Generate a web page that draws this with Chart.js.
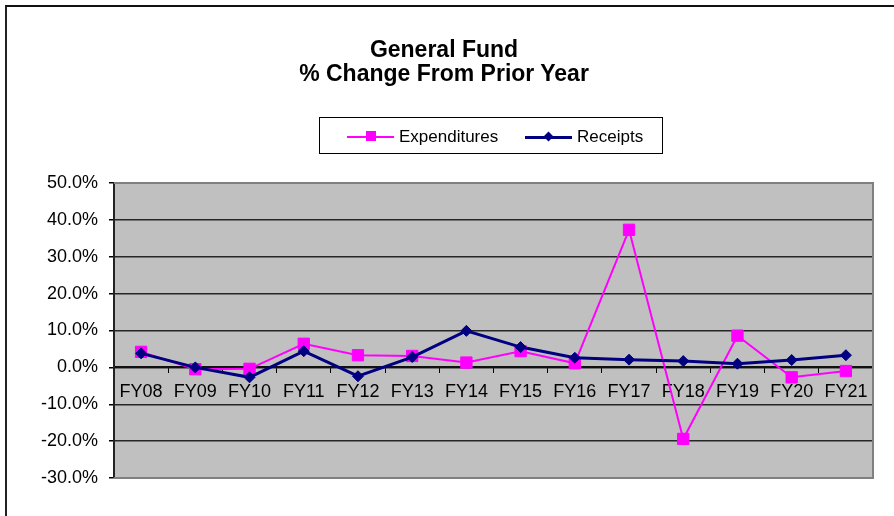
<!DOCTYPE html>
<html>
<head>
<meta charset="utf-8">
<script src="https://cdn.jsdelivr.net/npm/chart.js@4.4.1/dist/chart.umd.min.js"></script>
<style>
  html, body { margin: 0; padding: 0; background: #fff; }
  #wrap { position: relative; width: 894px; height: 516px; overflow: hidden; font-family: "Liberation Sans", Arial, sans-serif; }
  #frame { position: absolute; left: 5px; top: 5px; right: -10px; bottom: -10px; border-top: 2px solid #111; border-left: 2px solid #222; }
  #title { position: absolute; left: 0; width: 888px; top: 37px; text-align: center; font-weight: bold; font-size: 23px; line-height: 24px; color: #000; }
  #legend { position: absolute; left: 319px; top: 117px; width: 342px; height: 35px; border: 1px solid #000; background: #fff; }
  .item { position: absolute; top: 0; height: 35px; }
  .seg { position: absolute; top: 18px; width: 47px; }
  .mark { position: absolute; }
  .lbl { position: absolute; top: 10px; font-size: 17px; line-height: 17px; color: #000; white-space: nowrap; }
  canvas { position: absolute; left: 0; top: 0; }
</style>
</head>
<body>
<div id="wrap">
  <canvas id="chart" width="894" height="516"></canvas>
  <div id="frame"></div>
  <div id="title">General Fund<br>% Change From Prior Year</div>
  <div id="legend"></div>
</div>
<script>
const categories = ['FY08', 'FY09', 'FY10', 'FY11', 'FY12', 'FY13', 'FY14', 'FY15', 'FY16', 'FY17', 'FY18', 'FY19', 'FY20', 'FY21'];
const expenditures = [4.2, -0.5, -0.4, 6.4, 3.3, 3.1, 1.3, 4.4, 1.1, 37.3, -19.4, 8.6, -2.7, -1.0];
const receipts = [3.8, 0.0, -2.7, 4.4, -2.4, 2.8, 9.9, 5.5, 2.6, 2.1, 1.7, 1.0, 2.0, 3.3];
const seriesNames = ['Expenditures', 'Receipts'];
const seriesColors = ['#FF00FF', '#000080'];

// legend box, drawn by hand like the spreadsheet one
const legend = document.getElementById('legend');
const legendX = [27, 205];
seriesNames.forEach((name, i) => {
  const item = document.createElement('div');
  item.className = 'item';
  item.style.left = legendX[i] + 'px';
  const seg = document.createElement('div');
  seg.className = 'seg';
  seg.style.height = i === 0 ? '2px' : '3px';
  seg.style.background = seriesColors[i];
  const mark = document.createElement('div');
  mark.className = 'mark';
  mark.style.background = seriesColors[i];
  if (i === 0) {
    mark.style.width = '10px'; mark.style.height = '10px';
    mark.style.left = '19px'; mark.style.top = '13px';
  } else {
    mark.style.width = '7px'; mark.style.height = '7px';
    mark.style.left = '20px'; mark.style.top = '15px';
    mark.style.transform = 'rotate(45deg)';
  }
  const lbl = document.createElement('div');
  lbl.className = 'lbl';
  lbl.style.left = '52px';
  lbl.textContent = name;
  item.appendChild(seg); item.appendChild(mark); item.appendChild(lbl);
  legend.appendChild(item);
});

// gray plot background and gray frame on top/right/bottom
const plotArea = {
  id: 'plotArea',
  beforeDraw(chart) {
    const { ctx, chartArea: a } = chart;
    ctx.save();
    ctx.fillStyle = '#C0C0C0';
    ctx.fillRect(a.left, a.top, a.right - a.left, a.bottom - a.top);
    ctx.restore();
  },
  beforeDatasetsDraw(chart) {
    const { ctx, chartArea: a } = chart;
    ctx.save();
    ctx.strokeStyle = '#808080';
    ctx.lineWidth = 2;
    ctx.beginPath();
    ctx.moveTo(a.left, a.top);
    ctx.lineTo(a.right, a.top);
    ctx.lineTo(a.right, a.bottom);
    ctx.lineTo(a.left, a.bottom);
    ctx.stroke();
    ctx.restore();
  }
};

const tickFont = { family: '"Liberation Sans", Arial, sans-serif', size: 18 };

new Chart(document.getElementById('chart'), {
  type: 'line',
  data: {
    labels: categories,
    datasets: [
      {
        label: seriesNames[0],
        data: expenditures,
        borderColor: seriesColors[0],
        backgroundColor: seriesColors[0],
        borderWidth: 2,
        pointStyle: 'rect',
        pointRadius: 8,
        pointBorderWidth: 1,
        tension: 0,
        order: 1,
      },
      {
        label: seriesNames[1],
        data: receipts,
        borderColor: seriesColors[1],
        backgroundColor: seriesColors[1],
        borderWidth: 3,
        pointStyle: 'rectRot',
        pointRadius: 5.5,
        pointBorderWidth: 1,
        tension: 0,
        order: 0,
      },
    ],
  },
  options: {
    responsive: false,
    animation: false,
    layout: { padding: { top: 183, right: 21, bottom: 38, left: 0 } },
    plugins: {
      legend: { display: false },
      title: { display: false },
      tooltip: { enabled: false },
    },
    scales: {
      x: {
        position: { y: 0 },
        offset: true,
        grid: { offset: true, drawOnChartArea: false, drawTicks: true, tickLength: 5, color: '#000', lineWidth: 1 },
        border: { display: true, color: '#111', width: 2 },
        ticks: { color: '#000', font: tickFont, padding: 9, maxRotation: 0, autoSkip: false },
      },
      y: {
        min: -30,
        max: 50,
        afterFit(scale) { scale.width = 114; },
        grid: { color: '#262626', lineWidth: 1.5, tickLength: 5, tickColor: '#000' },
        border: { display: true, color: '#222', width: 2 },
        ticks: {
          stepSize: 10,
          color: '#000',
          font: tickFont,
          padding: 11,
          callback: (v) => v.toFixed(1) + '%',
        },
      },
    },
  },
  plugins: [plotArea],
});
</script>
</body>
</html>
